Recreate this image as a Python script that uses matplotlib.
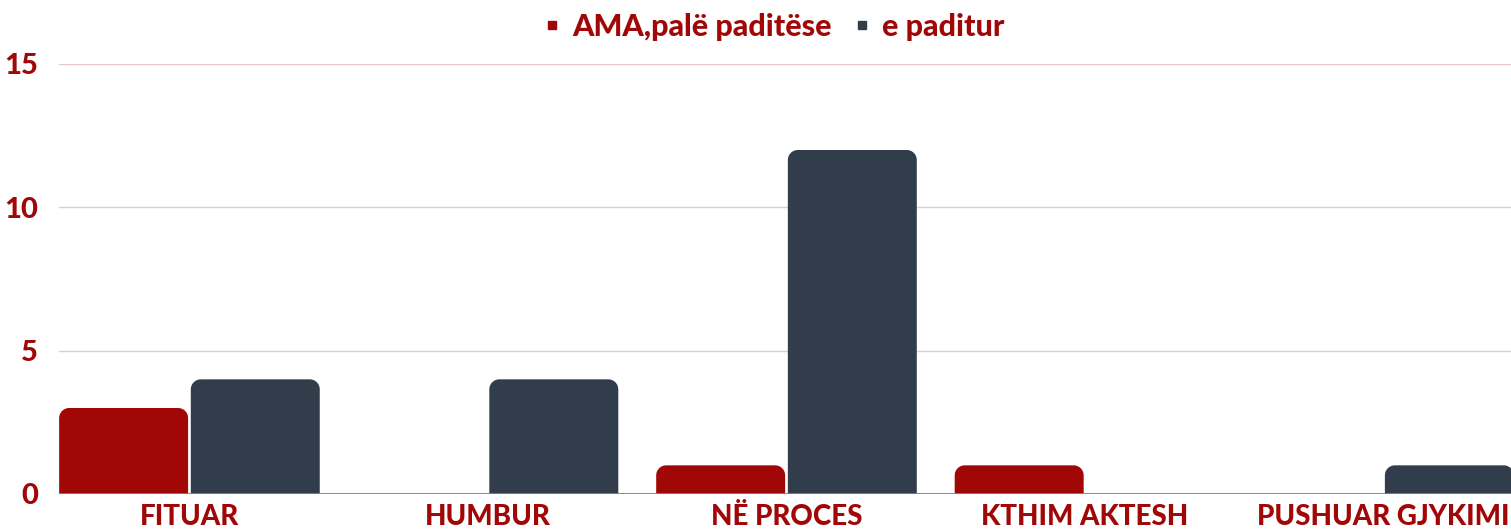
import numpy as np
import matplotlib; matplotlib.use("Agg")
import matplotlib.pyplot as plt
from matplotlib.patches import Polygon
from matplotlib.lines import Line2D

# ─── Data ─────────────────────────────────────────────────────────────────────
categories = ["FITUAR", "HUMBUR", "NË PROCES", "KTHIM AKTESH", "PUSHUAR GJYKIMI"]
series_names = ["AMA,palë paditëse", "e paditur"]
ama_values = [3, 0, 1, 1, 0]
paditur_values = [4, 4, 12, 0, 1]

RED = "#A10707"
DARK = "#323D4B"
FONT = ["Lato", "DejaVu Sans"]

plt.rcParams["font.family"] = FONT
plt.rcParams["font.weight"] = "black"

fig = plt.figure(figsize=(15.11, 5.31), dpi=100)
ax = fig.add_axes([59/1511, 1 - 494/531, 1 - 59/1511, (494 - 64)/531])

x = np.arange(len(categories))
width = 0.432
offset = 0.2205
ax.set_xlim(-0.437, 4.427)
ax.set_ylim(0, 15)

# rounded-top bars, corner radius given in pixels
ax_w = fig.get_figwidth() * fig.dpi * ax.get_position().width
ax_h = fig.get_figheight() * fig.dpi * ax.get_position().height
xu = (4.427 + 0.437) / ax_w
yu = 15 / ax_h
r_px = 10

def rbar(xc, h, color):
    if h <= 0:
        return
    x0, x1 = xc - width / 2, xc + width / 2
    rx, ry = r_px * xu, min(r_px * yu, h)
    th = np.linspace(0, np.pi / 2, 12)
    left = np.c_[x0 + rx - rx * np.cos(th), h - ry + ry * np.sin(th)]
    right = np.c_[x1 - rx + rx * np.sin(th), h - ry + ry * np.cos(th)]
    verts = np.vstack([[x0, 0], left, right, [x1, 0]])
    ax.add_patch(Polygon(verts, closed=True, fc=color, ec="none", zorder=3))

for xi, a, p in zip(x, ama_values, paditur_values):
    rbar(xi - offset, a, RED)
    rbar(xi + offset, p, DARK)

for yv in [5, 10, 15]:
    ax.axhline(yv, color="#EBC9C9", lw=1, zorder=1)
ax.axhline(0, color="#C46464", lw=2, zorder=4)

for s in ax.spines.values():
    s.set_visible(False)
ax.set_yticks([0, 5, 10, 15])
ax.set_yticklabels(["0", "5", "10", "15"])
ax.set_xticks(x)
ax.set_xticklabels(categories)
ax.tick_params(axis="y", length=0, pad=15, labelsize=21, labelcolor=RED)
ax.tick_params(axis="x", length=0, pad=7, labelsize=20, labelcolor=RED)
for t in ax.get_xticklabels() + ax.get_yticklabels():
    t.set_fontweight("black")

handles = [Line2D([], [], marker="s", ls="none", color=RED, markersize=6),
           Line2D([], [], marker="s", ls="none", color=DARK, markersize=6)]
leg = fig.legend(handles, series_names, loc="center", bbox_to_anchor=(0.5125, 1 - 27/531),
                 ncol=2, frameon=False, handlelength=0.5, handletextpad=0.4,
                 columnspacing=0.75,
                 prop={"family": FONT, "weight": "black", "size": 22})
for t in leg.get_texts():
    t.set_color(RED)

fig.savefig("out.png", dpi=100)
